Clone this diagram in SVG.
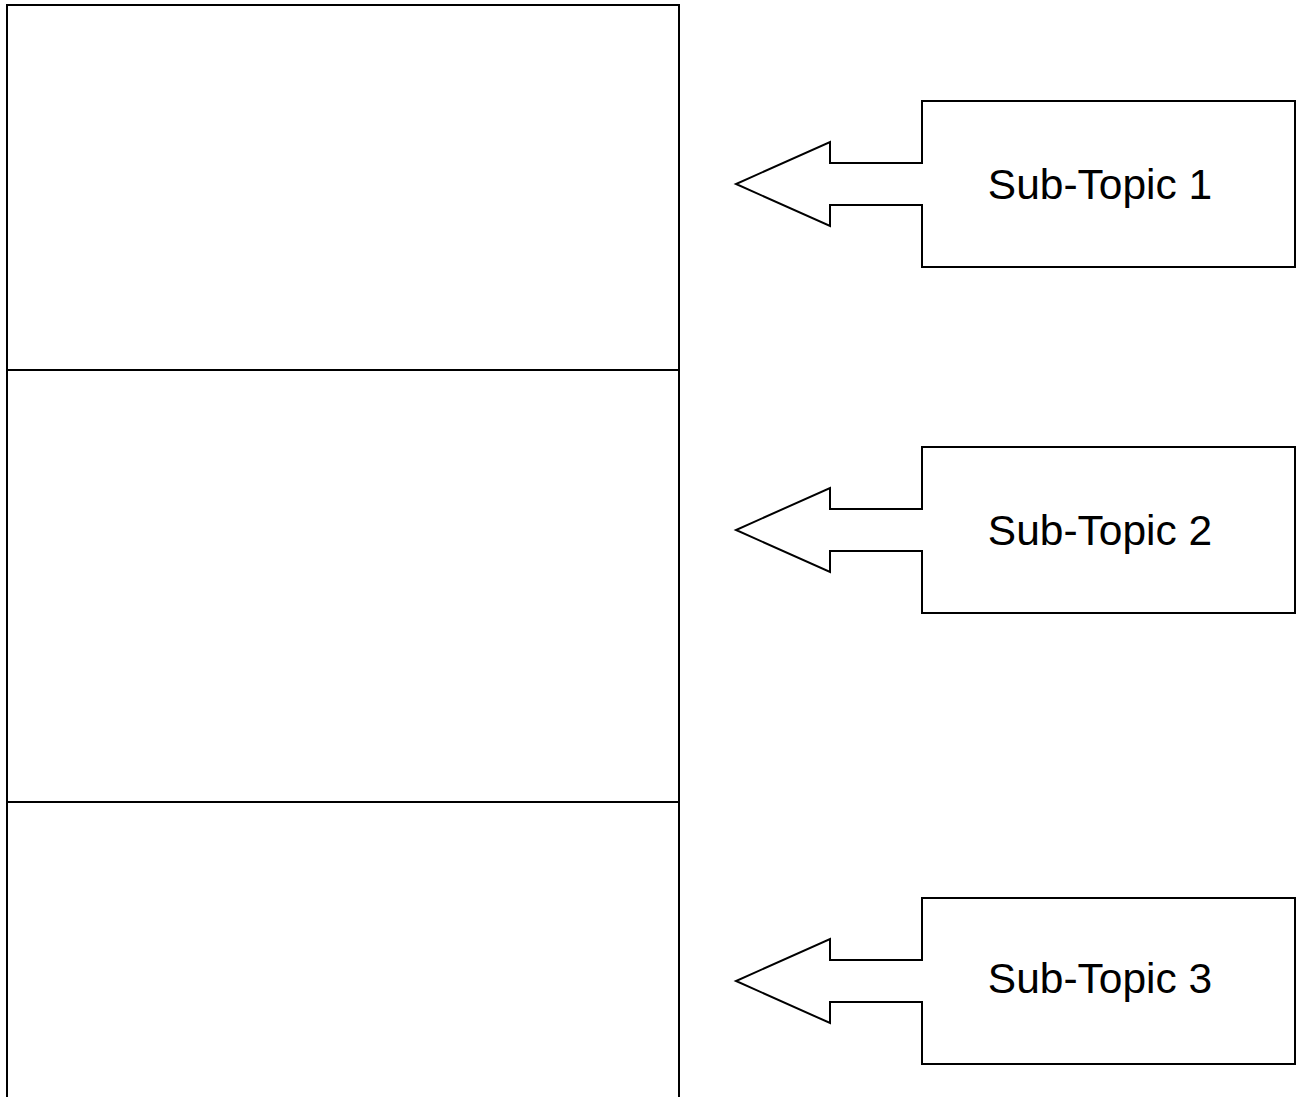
<svg xmlns="http://www.w3.org/2000/svg" width="1300" height="1097" viewBox="0 0 1300 1097">
<style>
.ln{fill:none;stroke:#000;stroke-width:2}
.co{fill:#fff;stroke:#000;stroke-width:2;stroke-linejoin:miter}
.t{font-family:"Liberation Sans",Arial,sans-serif;font-size:42.5px;fill:#000;text-anchor:middle}
</style>
<rect width="1300" height="1097" fill="#fff"/>
<g id="column">
<path class="ln" d="M7,1100 V5 H679 V1100"/>
<line class="ln" x1="7" y1="370" x2="679" y2="370"/>
<line class="ln" x1="7" y1="802" x2="679" y2="802"/>
</g>
<g id="connectors"></g>
<g id="sub1">
<path class="co" d="M922,101 H1295 V267 H922 V205 H830 V226 L736,184 L830,142 V163 H922 Z"/>
<text class="t" x="1100" y="199">Sub-Topic 1</text>
</g>
<g id="sub2">
<path class="co" d="M922,447 H1295 V613 H922 V551 H830 V572 L736,530 L830,488 V509 H922 Z"/>
<text class="t" x="1100" y="545">Sub-Topic 2</text>
</g>
<g id="sub3">
<path class="co" d="M922,898 H1295 V1064 H922 V1002 H830 V1023 L736,981 L830,939 V960 H922 Z"/>
<text class="t" x="1100" y="993">Sub-Topic 3</text>
</g>
</svg>
